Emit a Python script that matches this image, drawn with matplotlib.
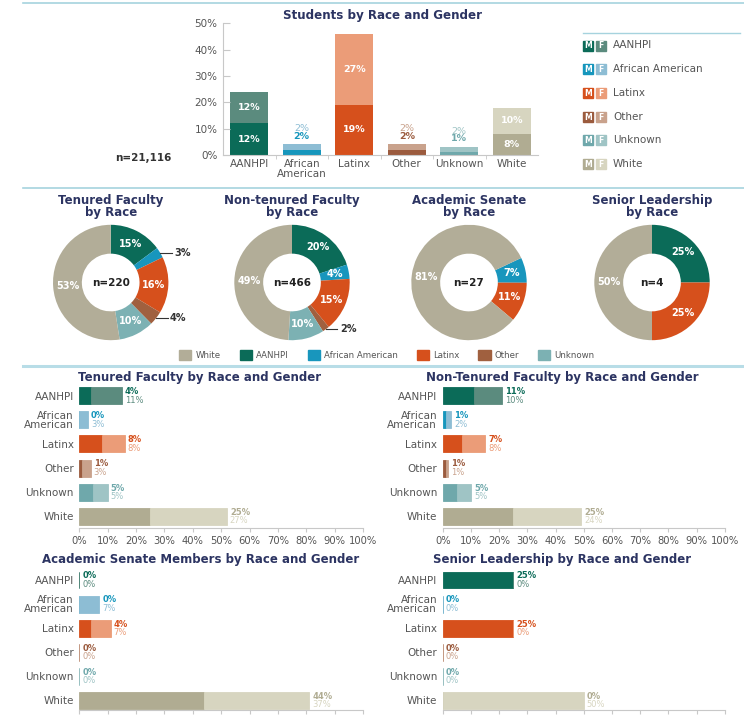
import numpy as np
import matplotlib.pyplot as plt
from matplotlib.patches import Patch, Rectangle

W, H = 744, 721

# ---- data ----
races = ['AANHPI', 'African American', 'Latinx', 'Other', 'Unknown', 'White']
race_ticks = ['AANHPI', 'African\nAmerican', 'Latinx', 'Other', 'Unknown', 'White']

students_m = [12, 2, 19, 2, 1, 8]
students_f = [12, 2, 27, 2, 2, 10]
students_n = 'n=21,116'

donut_titles = ['Tenured Faculty\nby Race', 'Non-tenured Faculty\nby Race',
                'Academic Senate\nby Race', 'Senior Leadership\nby Race']
donut_n = ['n=220', 'n=466', 'n=27', 'n=4']
tenured_race = [15, 3, 16, 4, 10, 53]
nontenured_race = [20, 4, 15, 2, 10, 49]
senate_race = [0, 7, 11, 0, 0, 81]
senior_race = [25, 0, 25, 0, 0, 50]

bar_titles = ['Tenured Faculty by Race and Gender', 'Non-Tenured Faculty by Race and Gender',
              'Academic Senate Members by Race and Gender', 'Senior Leadership by Race and Gender']
tenured_m = [4, 0, 8, 1, 5, 25]
tenured_f = [11, 3, 8, 3, 5, 27]
nontenured_m = [11, 1, 7, 1, 5, 25]
nontenured_f = [10, 2, 8, 1, 5, 24]
senate_m = [0, 0, 4, 0, 0, 44]
senate_f = [0, 7, 7, 0, 0, 37]
senior_m = [25, 0, 25, 0, 0, 0]
senior_f = [0, 0, 0, 0, 0, 50]

# ---- style ----
M_COL = {'AANHPI': '#0b6b58', 'African American': '#1696bc', 'Latinx': '#d6501c',
         'Other': '#9b5b3e', 'Unknown': '#6fa8ab', 'White': '#b0ac92'}
F_COL = {'AANHPI': '#5b8b7e', 'African American': '#8dbdd4', 'Latinx': '#eb9c78',
         'Other': '#c9a28c', 'Unknown': '#9fc4c5', 'White': '#d7d5c0'}
D_COL = {'AANHPI': '#0b6b58', 'African American': '#1896bd', 'Latinx': '#d6501c',
         'Other': '#a0603f', 'Unknown': '#7cb1b3', 'White': '#b2ad98'}
TITLE = '#2c3462'
TXT = '#555555'
LINE = '#a6d3de'
GRID = '#c8c8c8'


def rect(x0, y0, x1, y1):
    return [x0 / W, 1 - y1 / H, (x1 - x0) / W, (y1 - y0) / H]


def ftext(x, y, s, **kw):
    fig.text(x / W, 1 - y / H, s, **kw)


fig = plt.figure(figsize=(W / 100, H / 100), dpi=100)

# background layer for separators and the students legend
bg = fig.add_axes([0, 0, 1, 1])
bg.set_xlim(0, W)
bg.set_ylim(H, 0)
bg.axis('off')
bg.plot([23, W], [3, 3], color=LINE, lw=1.2)
bg.plot([23, W], [188, 188], color=LINE, lw=1.2)
bg.plot([23, W], [366, 366], color='#b8dde7', lw=2.2)
bg.plot([583, 740], [33, 33], color=LINE, lw=1)

for i, race in enumerate(races):
    y = 45.5 + 23.7 * i
    for j, (g, col) in enumerate(zip('MF', (M_COL[race], F_COL[race]))):
        x = 583 + 12.5 * j
        bg.add_patch(Rectangle((x, y - 5), 10, 10, color=col))
        bg.text(x + 5, y + 0.5, g, color='white', fontsize=5.5, fontweight='bold',
                ha='center', va='center')
    bg.text(613, y, race, fontsize=7.5, color=TXT, va='center')

# ---- students stacked column chart ----
ax = fig.add_axes(rect(223, 23.3, 538, 155))
x = np.arange(len(races))
ax.bar(x, students_m, width=0.72, color=[M_COL[r] for r in races])
ax.bar(x, students_f, width=0.72, bottom=students_m, color=[F_COL[r] for r in races])
ax.set_xlim(-0.5, len(races) - 0.5)
ax.set_ylim(0, 50)
ax.set_yticks(range(0, 51, 10))
ax.set_yticklabels(['%d%%' % v for v in range(0, 51, 10)])
ax.set_xticks(x)
ax.set_xticklabels(race_ticks, linespacing=0.95)
ax.set_xticks(np.arange(0.5, len(races) - 1, 1), minor=True)
ax.tick_params(axis='y', direction='in', length=5, color=GRID, labelsize=7.5, labelcolor=TXT, pad=4)
ax.tick_params(axis='x', which='major', length=0, labelsize=7.5, labelcolor=TXT, pad=3)
ax.tick_params(axis='x', which='minor', length=3, color=GRID)
for s in ('top', 'right'):
    ax.spines[s].set_visible(False)
for s in ('left', 'bottom'):
    ax.spines[s].set_color(GRID)
for i, race in enumerate(races):
    m, f = students_m[i], students_f[i]
    if m + f >= 6:
        ax.text(i, m / 2, '%d%%' % m, color='white', fontsize=6.8, fontweight='bold',
                ha='center', va='center')
        ax.text(i, m + f / 2, '%d%%' % f, color='white', fontsize=6.8, fontweight='bold',
                ha='center', va='center')
    else:
        ax.annotate('%d%%' % m, (i, m + f), xytext=(0, 6), textcoords='offset points',
                    color=M_COL[race], fontsize=6.8, fontweight='bold', ha='center', va='center')
        ax.annotate('%d%%' % f, (i, m + f), xytext=(0, 11.5), textcoords='offset points',
                    color=F_COL[race], fontsize=6.8, ha='center', va='center')
ftext(382.5, 15, 'Students by Race and Gender', fontsize=8.6, fontweight='bold',
      color=TITLE, ha='center', va='center')
ftext(143.7, 158, students_n, fontsize=7.5, fontweight='bold', color='#333333',
      ha='center', va='center')

# ---- donuts ----
donut_vals = [tenured_race, nontenured_race, senate_race, senior_race]
donut_cx = [110.7, 292, 469, 652]
donut_cy = 282.5
start_angles = [90, 90, 25.2, 90]
outside = [('African American', 'Other'), ('Other',), (), ()]
for k, vals in enumerate(donut_vals):
    cx = donut_cx[k]
    ax = fig.add_axes(rect(cx - 75, donut_cy - 75, cx + 75, donut_cy + 75))
    wedges, _ = ax.pie(vals, colors=[D_COL[r] for r in races], startangle=start_angles[k],
                       counterclock=False, radius=1,
                       wedgeprops=dict(width=0.5, linewidth=0))
    ax.set_xlim(-1.3, 1.3)
    ax.set_ylim(-1.3, 1.3)
    ax.set_aspect('equal')
    for w, v, race in zip(wedges, vals, races):
        if v == 0:
            continue
        mid = np.deg2rad((w.theta1 + w.theta2) / 2)
        c, s = np.cos(mid), np.sin(mid)
        if race in outside[k]:
            ax.plot([c, c + 0.2], [s, s], color='#333333', lw=0.8)
            ax.text(c + 0.24, s, '%d%%' % v, fontsize=7, fontweight='bold', color='#333333',
                    ha='left', va='center')
        else:
            ax.text(0.75 * c, 0.75 * s, '%d%%' % v, fontsize=7, fontweight='bold',
                    color='white', ha='center', va='center')
    ax.text(0, 0, donut_n[k], fontsize=7.5, fontweight='bold', color='#222222',
            ha='center', va='center')
    ftext(cx, 206.5, donut_titles[k], fontsize=8.5, fontweight='bold', color=TITLE,
          ha='center', va='center', linespacing=0.95)

legend_order = ['White', 'AANHPI', 'African American', 'Latinx', 'Other', 'Unknown']
handles = [Patch(color=D_COL[r]) for r in legend_order]
fig.legend(handles, legend_order, loc='center', bbox_to_anchor=(387 / W, 1 - 355 / H),
           ncol=6, frameon=False, fontsize=6.2, handlelength=1.4, handleheight=1.4,
           handletextpad=0.5, columnspacing=2.2, labelcolor=TXT)

# ---- horizontal stacked bars ----
bar_m = [tenured_m, nontenured_m, senate_m, senior_m]
bar_f = [tenured_f, nontenured_f, senate_f, senior_f]
bar_x = [(79.3, 363), (442.7, 724.7), (79.3, 363), (442.7, 724.7)]
bar_y = [(384, 528, 5.48), (384, 528, 5.48), (568.5, 710, 5.4), (568.5, 710, 5.4)]
title_pos = [(200, 377), (562, 377), (201, 560), (562, 560)]
for k in range(4):
    x0, x1 = bar_x[k]
    y0, y1, ybot = bar_y[k]
    ax = fig.add_axes(rect(x0, y0, x1, y1))
    rows = np.arange(len(races))
    m, f = bar_m[k], bar_f[k]
    ax.barh(rows, m, height=0.7, color=[M_COL[r] for r in races],
            edgecolor=[M_COL[r] for r in races], linewidth=0.6)
    ax.barh(rows, f, left=m, height=0.7, color=[F_COL[r] for r in races],
            edgecolor=[F_COL[r] for r in races], linewidth=0.6)
    ax.set_xlim(0, 100)
    ax.set_ylim(ybot, -0.48)
    ax.set_yticks(rows)
    ax.set_yticklabels(race_ticks, linespacing=0.9)
    ax.set_xticks(range(0, 101, 10))
    ax.set_xticklabels(['%d%%' % v for v in range(0, 101, 10)])
    ax.tick_params(axis='y', length=0, labelsize=7.5, labelcolor=TXT, pad=4)
    ax.tick_params(axis='x', length=3, color=GRID, labelsize=7.2, labelcolor=TXT, pad=3,
                   labelbottom=k < 2)
    for s in ('top', 'right', 'left'):
        ax.spines[s].set_visible(False)
    ax.spines['bottom'].set_color(GRID)
    for i, race in enumerate(races):
        tot = m[i] + f[i]
        ax.annotate('%d%%' % m[i], (tot, i), xytext=(2.2, 3), textcoords='offset points',
                    color=M_COL[race], fontsize=6, fontweight='bold', va='center', ha='left')
        ax.annotate('%d%%' % f[i], (tot, i), xytext=(2.2, -3.2), textcoords='offset points',
                    color=F_COL[race], fontsize=6, va='center', ha='left')
    tx, ty = title_pos[k]
    ftext(tx, ty, bar_titles[k], fontsize=8.5, fontweight='bold', color=TITLE,
          ha='center', va='center')

fig.savefig('out.png', dpi=100)
